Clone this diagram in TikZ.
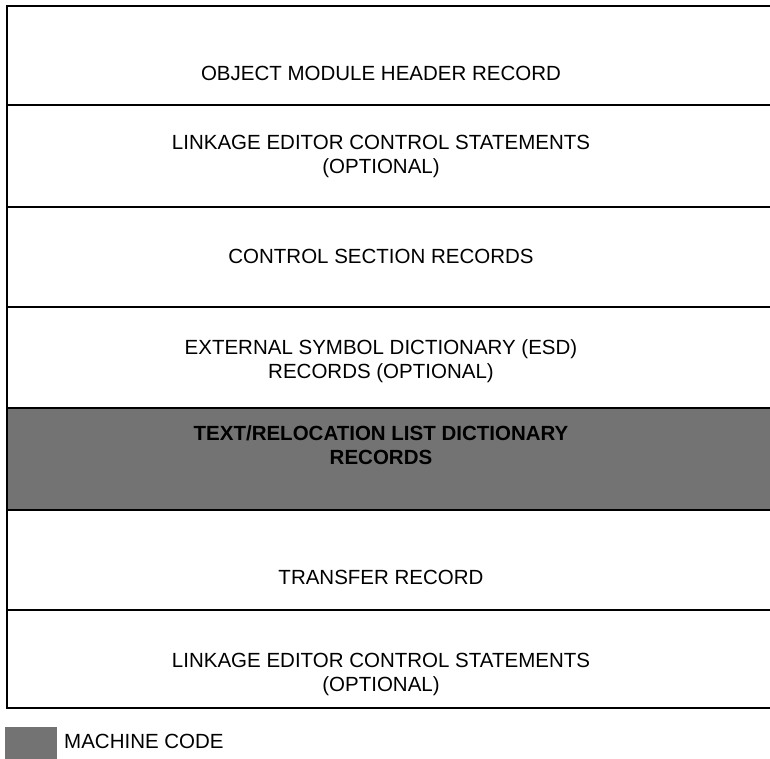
\documentclass[tikz,border=0pt]{standalone}
\usepackage{fontspec}
\setmainfont{Liberation Sans}
\begin{document}
\begin{tikzpicture}[x=1pt,y=-1pt,
  rowline/.style={line width=2.6pt},
  lbl/.style={align=center,font=\fontsize{20.5}{24}\selectfont,inner sep=0pt},
  shade/.style={fill=black!55}]
\useasboundingbox (0,0) rectangle (770,759);
\clip (0,0) rectangle (770,759);
% shaded row
\fill[shade] (7,408) rectangle (780,510);
% frame and row lines
\draw[rowline] (780,6) -- (7,6) -- (7,708) -- (780,708);
\foreach \y in {105,207,307,408,510,610} \draw[rowline] (7,\y) -- (780,\y);
% texts
\node[lbl] (r1) at (381,73) {OBJECT MODULE HEADER RECORD};
\node[lbl] (r2) at (381,156) {LINKAGE EDITOR CONTROL STATEMENTS\\(OPTIONAL)};
\node[lbl] (r3) at (381,256) {CONTROL SECTION RECORDS};
\node[lbl] (r4) at (381,361) {EXTERNAL SYMBOL DICTIONARY (ESD)\\RECORDS (OPTIONAL)};
\node[lbl,font=\fontsize{20.5}{24}\selectfont\bfseries] (r5) at (381,445) {TEXT/RELOCATION LIST DICTIONARY\\RECORDS};
\node[lbl] (r6) at (381,577) {TRANSFER RECORD};
\node[lbl] (r7) at (381,674) {LINKAGE EDITOR CONTROL STATEMENTS\\(OPTIONAL)};
% legend
\fill[shade] (5,727) rectangle (57,759);
\node[lbl,anchor=west] (leg) at (64,741) {MACHINE CODE};
\end{tikzpicture}
\end{document}
